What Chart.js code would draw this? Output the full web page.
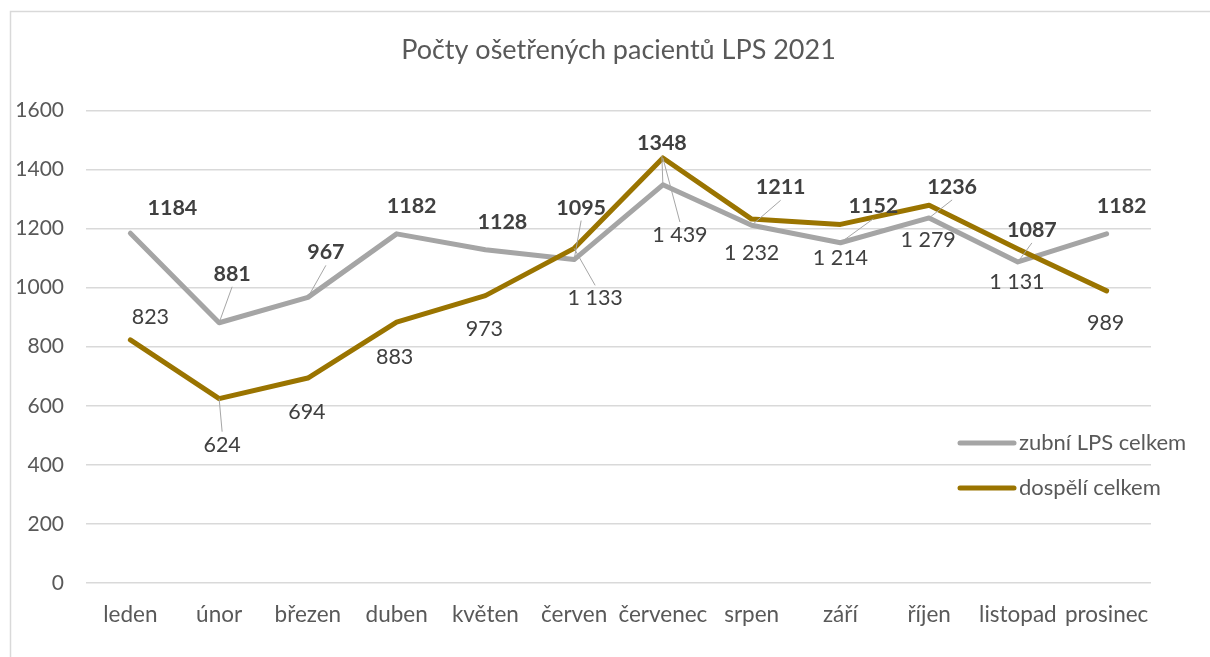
<!DOCTYPE html>
<html lang="cs">
<head>
<meta charset="utf-8">
<title>Počty ošetřených pacientů LPS 2021</title>
<script src="https://cdn.jsdelivr.net/npm/chart.js@4.4.1/dist/chart.umd.min.js"></script>
<style>
  html,body{margin:0;padding:0;background:#fff}
  #wrap{width:1210px;height:657px}
</style>
</head>
<body>
<div id="wrap"><canvas id="lpsChart" width="1210" height="657"></canvas></div>
<script>
/* ── DATA ───────────────────────────────────────────────── */
const months = ['leden','únor','březen','duben','květen','červen','červenec','srpen','září','říjen','listopad','prosinec'];
const zubniCelkem   = [1184, 881, 967, 1182, 1128, 1095, 1348, 1211, 1152, 1236, 1087, 1182];
const dospeliCelkem = [823, 624, 694, 883, 973, 1133, 1439, 1232, 1214, 1279, 1131, 989];
const yMin = 0, yMax = 1600, yStep = 200;

/* label placement (offset from point, px) – as moved by hand in the original */
const zubniLabelOffs   = [[42,-25],[13,-49],[18,-45],[15,-28],[17,-28],[7,-52],[-1,-42],[29,-38],[33,-37],[23,-31],[14,-32],[15,-28]];
const zubniLeaders     = [0,1,1,0,0,1,1,1,1,1,1,0];
const dospeliLabelOffs = [[20,-23],[3,46],[-1,34],[-2,35],[-1,33],[21,50],[17,77],[0,34],[0,34],[-1,35],[-1,33],[-1,32]];
const dospeliLeaders   = [0,1,0,0,0,1,1,0,0,0,0,0];

const FONT = 'Lato, "Open Sans", sans-serif';
const GRAY = '#a5a5a5';
const GOLD = '#9a7400';

function spaced(v){ return String(v).replace(/\B(?=(\d{3})+(?!\d))/g,' '); }

/* ── PLUGINS ────────────────────────────────────────────── */
const framePlugin = {
  id:'frame',
  beforeDraw(chart){
    const c = chart.ctx;
    c.save();
    c.fillStyle = '#fff';
    c.fillRect(0,0,chart.width,chart.height);
    c.strokeStyle = '#d9d9d9';
    c.lineWidth = 1.5;
    c.strokeRect(10.5, 11.5, chart.width+20, chart.height+20);
    c.restore();
  }
};

const pointLabelPlugin = {
  id:'pointLabels',
  afterDatasetsDraw(chart){
    const c = chart.ctx;
    chart.data.datasets.forEach((ds,di)=>{
      const lab = ds.pointLabels;
      if(!lab) return;
      const meta = chart.getDatasetMeta(di);
      c.save();
      c.font = (lab.bold ? 'bold ' : '') + '21.5px ' + FONT;
      c.textAlign = 'center';
      c.textBaseline = 'middle';
      meta.data.forEach((pt,i)=>{
        const txt = lab.fmt(ds.data[i]);
        const cx = pt.x + lab.offs[i][0], cy = pt.y + lab.offs[i][1];
        if(lab.leaders[i]){
          const hh = 13;
          const ty = pt.y > cy ? cy + hh : cy - hh;
          c.strokeStyle = '#a6a6a6';
          c.lineWidth = 1;
          c.beginPath();
          c.moveTo(pt.x, pt.y);
          c.lineTo(cx, ty);
          c.stroke();
        }
        c.fillStyle = '#404040';
        c.fillText(txt, cx, cy);
      });
      c.restore();
    });
  }
};

const legendPlugin = {
  id:'sideLegend',
  afterDraw(chart){
    const c = chart.ctx;
    c.save();
    c.font = '22px ' + FONT;
    c.textBaseline = 'middle';
    c.textAlign = 'left';
    chart.data.datasets.forEach((ds,i)=>{
      const y = 443 + i*45;
      c.strokeStyle = ds.borderColor;
      c.lineWidth = 5;
      c.lineCap = 'round';
      c.beginPath();
      c.moveTo(960,y); c.lineTo(1014,y);
      c.stroke();
      c.fillStyle = '#595959';
      c.fillText(ds.label, 1019, y);
    });
    c.restore();
  }
};

/* ── CHART ──────────────────────────────────────────────── */
Chart.defaults.font.family = FONT;
Chart.defaults.color = '#595959';

new Chart(document.getElementById('lpsChart'), {
  type:'line',
  data:{
    labels: months,
    datasets:[
      { label:'zubní LPS celkem', data:zubniCelkem, borderColor:GRAY, backgroundColor:GRAY,
        borderWidth:5, pointRadius:0, tension:0, borderCapStyle:'round', borderJoinStyle:'round', order:1,
        pointLabels:{ offs:zubniLabelOffs, leaders:zubniLeaders, bold:true, fmt:v=>String(v) } },
      { label:'dospělí celkem', data:dospeliCelkem, borderColor:GOLD, backgroundColor:GOLD,
        borderWidth:5, pointRadius:0, tension:0, borderCapStyle:'round', borderJoinStyle:'round', order:0,
        pointLabels:{ offs:dospeliLabelOffs, leaders:dospeliLeaders, bold:false, fmt:spaced } }
    ]
  },
  options:{
    responsive:false, animation:false,
    layout:{ padding:{ left:0, right:59, top:0, bottom:0 } },
    plugins:{
      legend:{ display:false },
      tooltip:{ enabled:false },
      title:{ display:true, text:'Počty ošetřených pacientů LPS 2021', fullSize:false,
              color:'#595959', font:{ size:27, weight:'normal', family:FONT },
              padding:{ top:34, bottom:44 } }
    },
    scales:{
      x:{ offset:true, grid:{ display:false }, border:{ display:false },
          ticks:{ font:{ size:22.5 }, color:'#595959', padding:10, maxRotation:0, autoSkip:false },
          afterFit:s=>{ s.height = 74; } },
      y:{ min:yMin, max:yMax,
          ticks:{ stepSize:yStep, font:{ size:21 }, color:'#595959', padding:22, callback:v=>String(v) },
          grid:{ color:'#d9d9d9', lineWidth:1.5, drawTicks:false }, border:{ display:false },
          afterFit:s=>{ s.width = 86; } }
    }
  },
  plugins:[framePlugin, pointLabelPlugin, legendPlugin]
});
</script>
</body>
</html>
